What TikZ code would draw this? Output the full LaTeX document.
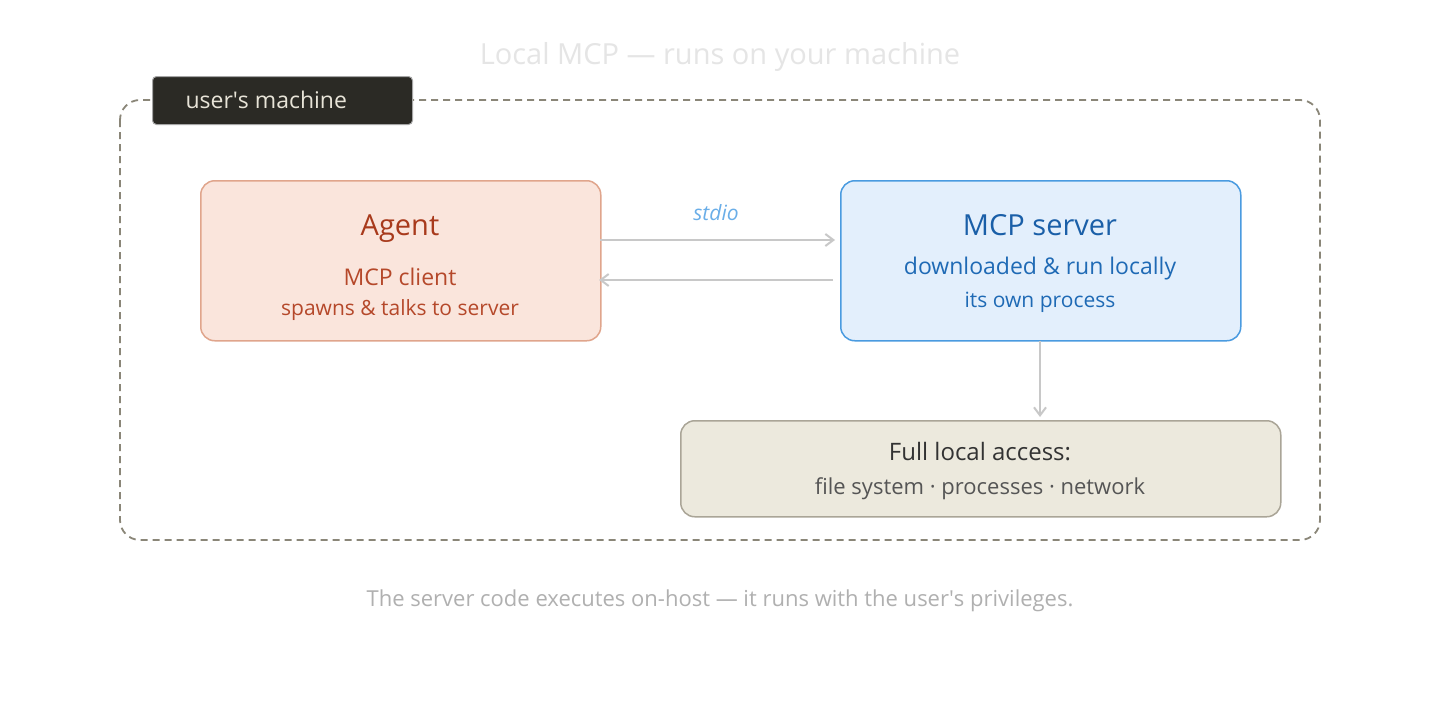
\documentclass[tikz,border=0pt]{standalone}
\usepackage{fontspec}
\setmainfont{Open Sans}
\usetikzlibrary{arrows.meta}
\definecolor{dashc}{HTML}{8A8678}
\definecolor{arr}{HTML}{C8C8C8}
\definecolor{labf}{HTML}{2B2A25}
\definecolor{labt}{HTML}{E8E4D8}
\definecolor{agd}{HTML}{E0A58C}
\definecolor{agf}{HTML}{FAE5DC}
\definecolor{agt}{HTML}{A83A1C}
\definecolor{agt2}{HTML}{B5482A}
\definecolor{svd}{HTML}{4A9BE0}
\definecolor{svf}{HTML}{E3EFFC}
\definecolor{svt}{HTML}{1A5FA8}
\definecolor{svt2}{HTML}{1F6AB5}
\definecolor{acd}{HTML}{AAA597}
\definecolor{acf}{HTML}{ECE9DD}
\definecolor{act}{HTML}{333333}
\definecolor{act2}{HTML}{555555}
\definecolor{stc}{HTML}{6AAEE8}
\definecolor{ftc}{HTML}{B0B0B0}
\tikzset{
 box/.style={draw,line width=1.5pt,rounded corners=14pt,minimum width=400pt,minimum height=160pt,anchor=north west},
 conn/.style={draw=arr,line width=2pt,-{Straight Barb[length=8pt,width=12pt]}},
 fs/.style={font=\fontsize{#1}{#1}\selectfont}
}
\begin{document}
\begin{tikzpicture}[x=1pt,y=-1pt]
\useasboundingbox[fill=white] (0,0) rectangle (1440,720);
\node[fs=29,text=black!10] (title) at (720,57) {Local MCP — runs on your machine};
\draw[dashc,line width=1.8pt,dash pattern=on 7pt off 5pt,rounded corners=20pt] (120,100) rectangle (1320,540);
\node[draw=gray!70,fill=labf,line width=1pt,rounded corners=4pt,minimum width=260pt,minimum height=48pt,anchor=north west] (lab) at (152,76) {};
\node[fs=23,text=labt,anchor=west] at (182,100) {user\textquotesingle s machine};
\node[box,draw=agd,fill=agf] (agent) at (200,180) {};
\node[fs=29,text=agt] at (400,229) {Agent};
\node[fs=23,text=agt2] at (400,277) {MCP client};
\node[fs=21,text=agt2] at (400,310) {spawns \& talks to server};
\node[box,draw=svd,fill=svf] (srv) at (840,180) {};
\node[fs=29,text=svt] at (1040,225) {MCP server};
\node[fs=23,text=svt2] at (1040,269) {downloaded \& run locally};
\node[fs=21,text=svt2] at (1040,302) {its own process};
\node[box,draw=acd,fill=acf,minimum width=600pt,minimum height=96pt] (acc) at (680,420) {};
\node[fs=24,text=act] at (980,452) {Full local access:};
\node[fs=22,text=act2] at (980,489) {file system · processes · network};
\coordinate (a1) at (600,240); \coordinate (s1) at (835,240);
\coordinate (a2) at (599,280); \coordinate (s2) at (833,280);
\draw[conn] (a1) -- (s1);
\draw[conn] (s2) -- (a2);
\node[text=stc,font=\fontsize{21}{21}\selectfont\itshape] at (716,213) {stdio};
\coordinate (d1) at (1040,341); \coordinate (d2) at (1040,417);
\draw[conn] (d1) -- (d2);
\node[fs=22,text=ftc] at (720,601) {The server code executes on-host — it runs with the user\textquotesingle s privileges.};
\end{tikzpicture}
\end{document}
